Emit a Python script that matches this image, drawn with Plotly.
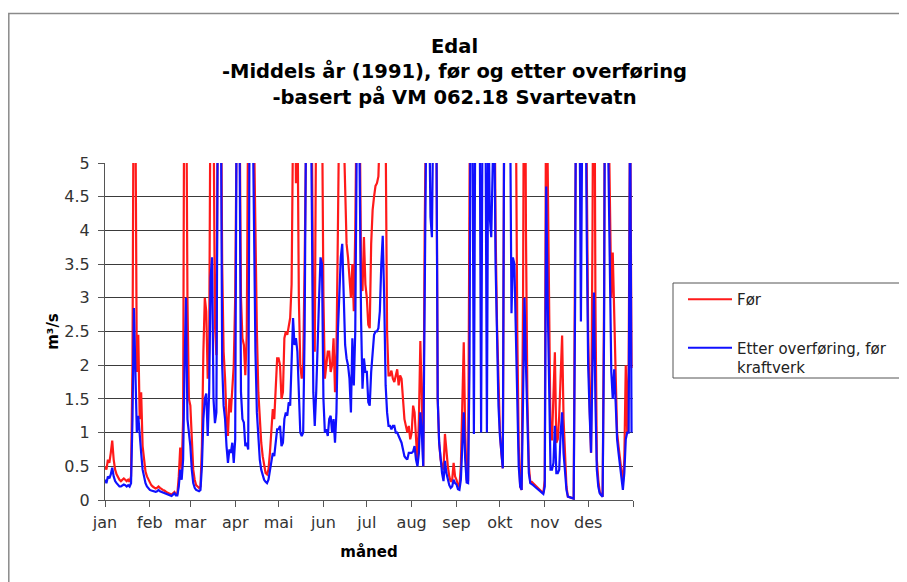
import pandas as pd
import plotly.graph_objects as go

# ---- data (daily flow, m3/s, 1991) ----
month_labels = ["jan", "feb", "mar", "apr", "mai", "jun", "jul", "aug", "sep", "okt", "nov", "des"]
month_starts = ["1991-01-01", "1991-02-01", "1991-03-01", "1991-04-01", "1991-05-01", "1991-06-01",
                "1991-07-01", "1991-08-01", "1991-09-01", "1991-10-01", "1991-11-01", "1991-12-01",
                "1992-01-01"]

for_jan = [0.5, 0.45, 0.6, 0.55, 0.7, 0.88, 0.6, 0.45, 0.38, 0.33, 0.3, 0.28, 0.3, 0.32, 0.3, 0.28, 0.3, 0.27, 0.35, 2.0, 7.5, 6.0, 1.9, 2.45, 1.2, 1.6, 0.8, 0.55, 0.42, 0.35, 0.3]
for_feb = [0.25, 0.22, 0.2, 0.18, 0.17, 0.18, 0.2, 0.18, 0.16, 0.15, 0.14, 0.12, 0.11, 0.1, 0.09, 0.08, 0.1, 0.12, 0.08, 0.09, 0.35, 0.78, 0.45, 1.2, 8.0, 7.0, 3.0, 1.5]
for_mar = [1.4, 0.9, 0.45, 0.3, 0.22, 0.2, 0.18, 0.2, 0.8, 2.2, 3.0, 2.8, 1.8, 2.2, 6.5, 8.0, 6.0, 2.6, 2.15, 6.0, 8.0, 7.0, 3.5, 2.2, 1.8, 1.2, 0.95, 1.5, 1.3, 1.6, 2.0]
for_apr = [3.0, 7.0, 8.0, 6.0, 3.0, 2.4, 2.3, 1.85, 2.45, 6.0, 8.0, 9.0, 7.0, 5.5, 3.5, 2.5, 1.6, 1.1, 0.85, 0.65, 0.5, 0.4, 0.38, 0.45, 0.7, 1.1, 1.35, 1.2, 1.6, 2.1]
for_mai = [2.1, 2.0, 1.5, 1.6, 2.4, 2.5, 2.45, 2.6, 2.7, 3.2, 6.5, 8.0, 4.7, 6.0, 3.0, 2.0, 1.8, 2.0, 3.5, 7.0, 9.0, 9.0, 7.0, 5.5, 2.6, 2.2, 6.0, 8.0, 8.0, 7.0, 6.0]
for_jun = [3.0, 1.8, 2.0, 2.2, 2.2, 1.9, 2.0, 2.4, 1.6, 2.2, 4.0, 7.0, 8.0, 7.0, 5.5, 4.5, 3.8, 3.6, 3.3, 3.0, 3.5, 2.8, 4.0, 7.0, 8.0, 6.0, 3.4, 3.1, 3.9, 3.2]
for_jul = [3.0, 2.6, 2.55, 3.8, 4.3, 4.5, 4.66, 4.7, 4.8, 5.5, 7.0, 8.0, 7.0, 5.5, 2.5, 1.85, 1.85, 1.92, 1.8, 1.75, 1.85, 1.94, 1.7, 1.85, 1.8, 1.5, 1.2, 1.1, 1.0, 1.1, 0.9]
for_aug = [1.0, 1.4, 1.3, 0.9, 0.55, 1.2, 2.36, 1.5, 0.5, 4.0, 8.0, 8.0, 7.0, 6.0, 5.5, 7.0, 8.0, 6.0, 1.5, 0.85, 0.6, 0.5, 0.45, 0.98, 0.7, 0.5, 0.35, 0.27, 0.3, 0.55, 0.35]
for_sep = [0.3, 0.22, 0.2, 0.5, 1.5, 2.34, 1.0, 0.3, 0.28, 6.0, 9.0, 8.0, 6.0, 8.0, 9.0, 8.0, 7.0, 6.0, 8.0, 8.0, 6.0, 6.0, 7.0, 8.0, 9.0, 8.0, 7.0, 4.0, 2.6, 1.6]
for_okt = [1.0, 0.7, 0.47, 6.0, 9.0, 9.0, 8.0, 7.0, 6.0, 7.0, 8.0, 6.0, 2.5, 0.8, 0.2, 0.15, 3.0, 9.0, 4.0, 1.5, 0.5, 0.27, 0.27, 0.25, 0.23, 0.2, 0.18, 0.16, 0.14, 0.12, 0.1]
for_nov = [0.3, 7.0, 5.0, 2.5, 0.9, 0.9, 1.5, 2.19, 0.85, 0.9, 1.25, 2.0, 2.44, 1.2, 0.6, 0.2, 0.05, 0.04, 0.03, 0.03, 0.02, 4.0, 9.0, 9.0, 8.0, 6.0, 7.0, 9.0, 8.0, 5.0]
for_des = [2.5, 1.4, 0.7, 4.0, 9.0, 3.0, 0.6, 0.3, 0.12, 0.08, 0.05, 3.0, 9.0, 8.0, 6.0, 4.0, 3.0, 3.67, 2.76, 1.5, 1.0, 0.8, 0.6, 0.4, 0.25, 0.6, 2.0, 1.0, 2.0, 6.0, 1.96]

etter_jan = [0.3, 0.25, 0.35, 0.32, 0.38, 0.48, 0.35, 0.28, 0.25, 0.22, 0.2, 0.2, 0.22, 0.23, 0.22, 0.2, 0.22, 0.2, 0.25, 1.2, 2.85, 2.0, 1.0, 1.25, 0.9, 0.7, 0.45, 0.32, 0.25, 0.2, 0.17]
etter_feb = [0.15, 0.14, 0.13, 0.12, 0.12, 0.13, 0.15, 0.13, 0.12, 0.11, 0.1, 0.09, 0.08, 0.08, 0.07, 0.06, 0.08, 0.1, 0.07, 0.07, 0.2, 0.45, 0.3, 0.6, 2.0, 3.0, 1.2, 1.0]
etter_mar = [0.8, 0.45, 0.25, 0.18, 0.15, 0.14, 0.13, 0.15, 0.5, 1.2, 1.5, 1.58, 0.95, 1.6, 3.3, 3.6, 1.5, 1.14, 1.3, 6.0, 8.0, 6.5, 2.0, 1.4, 1.2, 0.8, 0.55, 0.75, 0.7, 0.85, 0.55]
etter_apr = [0.9, 6.0, 8.0, 5.5, 1.6, 1.2, 1.15, 0.8, 0.85, 0.75, 6.0, 8.0, 6.0, 4.0, 2.2, 1.3, 0.85, 0.6, 0.45, 0.35, 0.3, 0.27, 0.25, 0.3, 0.45, 0.6, 0.7, 0.65, 0.85, 1.05]
etter_mai = [1.05, 1.1, 0.8, 0.85, 1.2, 1.3, 1.25, 1.45, 1.4, 2.0, 2.7, 2.3, 2.4, 2.2, 1.5, 1.0, 0.95, 1.0, 2.5, 6.0, 9.0, 9.0, 6.0, 4.3, 1.6, 1.1, 1.6, 2.5, 3.0, 3.6, 3.5]
etter_jun = [1.5, 1.0, 1.05, 0.95, 1.2, 1.25, 1.0, 1.2, 0.85, 1.3, 2.5, 3.2, 3.6, 3.8, 3.0, 2.3, 2.1, 2.0, 1.8, 1.3, 2.4, 1.7, 2.5, 6.0, 8.0, 5.0, 2.7, 1.65, 2.1, 1.9]
etter_jul = [1.9, 1.45, 1.4, 1.9, 2.2, 2.45, 2.5, 2.5, 2.55, 2.8, 3.5, 3.92, 3.0, 1.7, 1.3, 1.1, 1.1, 1.05, 1.1, 1.1, 1.0, 1.0, 0.95, 0.9, 0.85, 0.75, 0.65, 0.62, 0.6, 0.7, 0.7]
etter_aug = [0.7, 0.72, 0.8, 0.6, 0.5, 0.7, 1.3, 1.0, 0.5, 3.0, 8.0, 8.0, 6.0, 4.2, 3.9, 5.5, 8.0, 6.0, 1.5, 0.85, 0.6, 0.4, 0.28, 0.58, 0.4, 0.3, 0.22, 0.18, 0.2, 0.3, 0.25]
etter_sep = [0.23, 0.16, 0.15, 0.3, 0.8, 1.3, 0.6, 0.26, 0.25, 2.0, 8.0, 6.0, 0.98, 6.0, 8.0, 8.0, 6.0, 1.0, 6.0, 8.0, 6.0, 1.0, 6.0, 4.2, 3.9, 6.0, 6.0, 3.5, 2.3, 1.4]
etter_okt = [0.95, 0.65, 0.47, 6.0, 9.0, 8.0, 7.0, 6.0, 2.77, 3.6, 3.5, 2.5, 1.2, 0.5, 0.2, 0.15, 1.5, 3.0, 2.0, 1.0, 0.4, 0.25, 0.24, 0.22, 0.2, 0.18, 0.16, 0.14, 0.12, 0.1, 0.09]
etter_nov = [0.2, 4.65, 3.0, 1.5, 0.45, 0.45, 0.55, 1.1, 0.4, 0.4, 0.45, 1.0, 1.3, 0.7, 0.45, 0.15, 0.05, 0.04, 0.03, 0.03, 0.02, 3.0, 9.0, 8.0, 6.0, 2.65, 6.0, 9.0, 7.0, 4.0]
etter_des = [2.0, 1.3, 0.7, 2.0, 3.08, 1.5, 0.45, 0.2, 0.1, 0.07, 0.05, 2.5, 9.0, 8.0, 5.0, 3.0, 1.9, 1.5, 1.94, 1.45, 0.9, 0.7, 0.5, 0.3, 0.15, 0.4, 0.9, 1.0, 1.0, 6.0, 1.0]

for_values = (for_jan + for_feb + for_mar + for_apr + for_mai + for_jun +
              for_jul + for_aug + for_sep + for_okt + for_nov + for_des)
etter_values = (etter_jan + etter_feb + etter_mar + etter_apr + etter_mai + etter_jun +
                etter_jul + etter_aug + etter_sep + etter_okt + etter_nov + etter_des)

dates = pd.date_range("1991-01-01", periods=len(for_values), freq="D")

FONT = "DejaVu Sans, Verdana, sans-serif"

fig = go.Figure()
fig.add_trace(go.Scatter(x=dates, y=for_values, mode="lines", name="Før",
                         line=dict(color="#ff1a1a", width=2.2), legendgroup="a"))
fig.add_trace(go.Scatter(x=dates, y=etter_values, mode="lines",
                         name="Etter overføring, før<br>kraftverk",
                         line=dict(color="#1010ff", width=2.2), legendgroup="b"))

# page body adds an 8 px offset; layout coords = screen coords - 8
OFF = 8
W, H = 907, 582
L, T = 105 - OFF, 163 - OFF
pw, ph = 528, 337
R, B = W - L - pw, H - T - ph


def px_x(sx):
    return (sx - OFF - L) / pw


def px_y(sy):
    return (T + ph - (sy - OFF)) / ph


fig.update_layout(
    width=W, height=H,
    margin=dict(l=L, r=R, t=T, b=B),
    paper_bgcolor="white", plot_bgcolor="white",
    font=dict(family=FONT, color="#333333"),
    title=dict(
        text="Edal<br>-Middels år (1991), før og etter overføring<br>-basert på VM 062.18 Svartevatn",
        font=dict(family=FONT, size=19.5, color="black", weight="bold"),
        x=446.5 / W, xanchor="center", xref="container",
        y=1 - 45 / H, yanchor="top", yref="container",
    ),
    xaxis=dict(
        range=["1991-01-01", "1992-01-01"],
        tickmode="array", tickvals=month_starts, ticktext=month_labels + [""],
        showgrid=False, zeroline=False,
        showline=True, linecolor="#555555", linewidth=1,
        ticks="outside", ticklen=6, tickcolor="#555555",
        ticklabelstandoff=2,
        tickfont=dict(family=FONT, size=16, color="#333333"),
        title=dict(text="måned", font=dict(family=FONT, size=15, color="black", weight="bold"),
                   standoff=15),
    ),
    yaxis=dict(
        range=[0, 5], dtick=0.5, tick0=0,
        showgrid=True, gridcolor="#3a3a3a", gridwidth=1,
        zeroline=False,
        showline=True, linecolor="#555555", linewidth=1,
        ticks="outside", ticklen=6, tickcolor="#555555",
        ticklabelstandoff=5,
        tickfont=dict(family=FONT, size=16, color="#333333"),
        title=dict(text="m³/s", font=dict(family=FONT, size=15, color="black", weight="bold"),
                   standoff=2),
    ),
    legend=dict(
        x=px_x(683), y=px_y(283), xanchor="left", yanchor="top",
        bgcolor="rgba(0,0,0,0)", borderwidth=0,
        font=dict(family=FONT, size=15, color="#222222"),
        valign="top", tracegroupgap=26, traceorder="grouped",
        itemwidth=44,
    ),
    shapes=[
        # outer chart frame
        dict(type="rect", xref="paper", yref="paper",
             x0=px_x(8.8), x1=px_x(1200), y0=px_y(900), y1=px_y(13.5),
             line=dict(color="#8a8a8a", width=1.5), fillcolor="rgba(0,0,0,0)", layer="below"),
        # legend box
        dict(type="rect", xref="paper", yref="paper",
             x0=px_x(673), x1=px_x(1200), y0=px_y(378), y1=px_y(283),
             line=dict(color="#555555", width=1), fillcolor="rgba(0,0,0,0)"),
    ],
)

fig.write_html("out.html")
